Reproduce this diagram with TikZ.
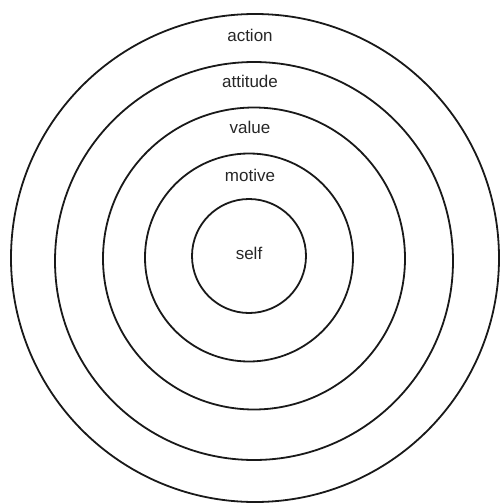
\documentclass[tikz,border=0pt]{standalone}
\usepackage{fontspec}
\setmainfont{Liberation Sans}
\begin{document}
\begin{tikzpicture}[x=1pt,y=-1pt,
  ring/.style={draw=black!90,line width=1.8pt},
  lbl/.style={font=\fontsize{17}{19}\selectfont,text=black!85,inner sep=0pt}]
\useasboundingbox (0,0) rectangle (499,504);
\draw[ring] (255,258) circle[radius=244];
\draw[ring] (254,261) circle[radius=199];
\draw[ring] (254,258.5) circle[radius=151];
\draw[ring] (249,257.5) circle[radius=104];
\draw[ring] (249,256) circle[radius=57];
\node[lbl] (action) at (250,35) {action};
\node[lbl] (attitude) at (250,81) {attitude};
\node[lbl] (value) at (250,127) {value};
\node[lbl] (motive) at (250,175) {motive};
\node[lbl] (self) at (249,253) {self};
\end{tikzpicture}
\end{document}
